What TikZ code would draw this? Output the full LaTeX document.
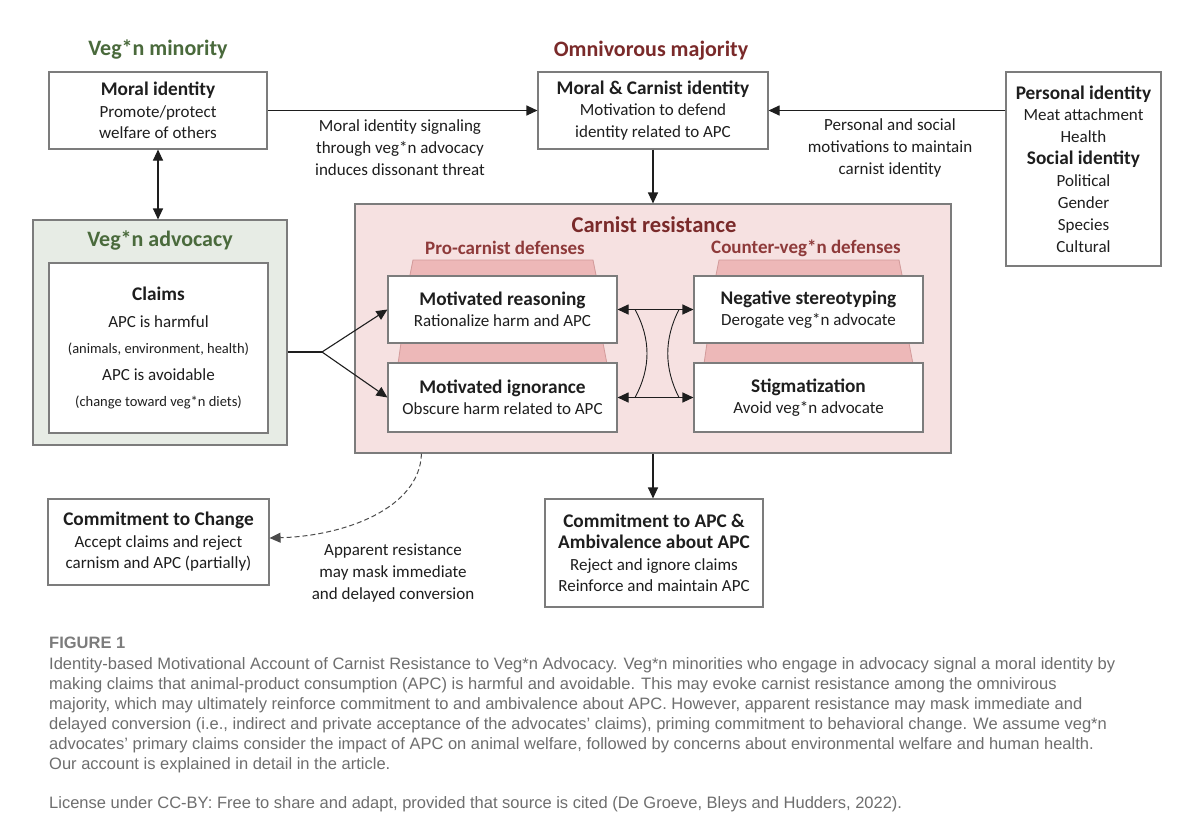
\documentclass[tikz,border=0pt]{standalone}
\usepackage{fontspec}
\setmainfont{Carlito}
\newfontfamily\capfont{Liberation Sans}
\usetikzlibrary{arrows.meta,calc}
\definecolor{vgreen}{HTML}{4A6A3C}
\definecolor{cred}{HTML}{7A2A2A}
\definecolor{cred2}{HTML}{8E3A3A}
\definecolor{pinkbg}{HTML}{F6E1E1}
\definecolor{pinktrap}{HTML}{EDB8B8}
\definecolor{pinkline}{HTML}{D29A9A}
\definecolor{greenbg}{HTML}{E7ECE5}
\definecolor{boxline}{HTML}{7C7C7C}
\definecolor{captxt}{HTML}{6E6E6E}
\definecolor{ink}{HTML}{1E1E1E}
\newcommand{\boxhead}[1]{{\fontsize{19.3}{21.5}\selectfont\bfseries #1}}
\begin{document}
\begin{tikzpicture}[x=1pt,y=-1pt,
  box/.style={draw=boxline,line width=1.1pt,fill=white,inner sep=0pt,align=center,text=ink,font=\fontsize{17}{21.5}\selectfont},
  title/.style={font=\bfseries\fontsize{22}{26}\selectfont,inner sep=0pt},
  subtitle/.style={font=\bfseries\fontsize{19}{22}\selectfont,inner sep=0pt,text=cred2},
  lbl/.style={align=center,inner sep=0pt,text=ink,font=\fontsize{17}{22}\selectfont},
  conn/.style={draw=ink,line width=1.1pt},
  arr/.style={conn,-{Triangle[length=11pt,width=10pt]}},
  darr/.style={conn,{Triangle[length=11pt,width=10pt]}-{Triangle[length=11pt,width=10pt]}},
  trap/.style={fill=pinktrap,draw=pinkline,line width=0.8pt},
  captext/.style={anchor=base west,inner sep=0pt,text=captxt,font=\capfont\fontsize{16.5}{20}\selectfont}
]
\useasboundingbox (0,0) rectangle (1200,839);
\fill[white] (0,0) rectangle (1200,839);

% titles
\node[title,text=vgreen] (tmin) at (158,49) {Veg*n minority};
\node[title,text=cred] (tmaj) at (651,51) {Omnivorous majority};

% top boxes
\node[box,minimum width=218pt,minimum height=77pt] (mid) at (158,110.5)
  {\boxhead{Moral identity}\\Promote/protect\\welfare of others};
\node[box,minimum width=230pt,minimum height=77pt] (mci) at (653,110.5)
  {\boxhead{Moral \& Carnist identity}\\Motivation to defend\\identity related to APC};
\node[box,minimum width=155pt,minimum height=194pt,font=\fontsize{17}{21.9}\selectfont] (pid) at (1083.5,169)
  {\boxhead{Personal identity}\\Meat attachment\\Health\\\boxhead{Social identity}\\Political\\Gender\\Species\\Cultural};

% veg*n advocacy
\node[box,fill=greenbg,minimum width=254pt,minimum height=225pt] (vadv) at (160,332.5) {};
\node[title,text=vgreen] (tadv) at (160,240) {Veg*n advocacy};
\node[box,minimum width=219pt,minimum height=170pt] (claims) at (158.5,348)
  {\boxhead{Claims}\\[5pt]APC is harmful\\[5pt]{\fontsize{14.5}{18}\selectfont (animals, environment, health)}\\[5pt]APC is avoidable\\[5pt]{\fontsize{14.5}{18}\selectfont (change toward veg*n diets)}};

% carnist resistance
\node[box,fill=pinkbg,minimum width=596pt,minimum height=249pt] (carn) at (653,328.5) {};
\node[title,text=cred,font=\bfseries\fontsize{22.6}{26}\selectfont] (tcarn) at (654,225) {Carnist resistance};
\node[subtitle] (tpro) at (505,248) {Pro-carnist defenses};
\node[subtitle] (tcounter) at (806,248) {Counter-veg*n defenses};

\draw[trap] (413,260) -- (593,260) -- (597,280) -- (409,280) -- cycle;
\draw[trap] (401,343) -- (603,343) -- (607,364) -- (398,364) -- cycle;
\draw[trap] (719,260) -- (899,260) -- (903,280) -- (715,280) -- cycle;
\draw[trap] (707,343) -- (909,343) -- (913,364) -- (704,364) -- cycle;

\node[box,minimum width=229pt,minimum height=67pt] (mr) at (502.5,309.5)
  {\boxhead{Motivated reasoning}\\Rationalize harm and APC};
\node[box,minimum width=229pt,minimum height=69pt] (mi) at (502.5,397.5)
  {\boxhead{Motivated ignorance}\\Obscure harm related to APC};
\node[box,minimum width=229pt,minimum height=67pt] (ns) at (808.5,309.5)
  {\boxhead{Negative stereotyping}\\Derogate veg*n advocate};
\node[box,minimum width=229pt,minimum height=69pt] (st) at (808.5,397.5)
  {\boxhead{Stigmatization}\\Avoid veg*n advocate};

% bottom boxes
\node[box,minimum width=221pt,minimum height=86pt] (cc) at (158.5,542)
  {\boxhead{Commitment to Change}\\Accept claims and reject\\carnism and APC (partially)};
\node[box,minimum width=218pt,minimum height=108pt] (capc) at (654,553)
  {\boxhead{Commitment to APC \&}\\\boxhead{Ambivalence about APC}\\Reject and ignore claims\\Reinforce and maintain APC};

% labels
\node[lbl] (l1) at (400,148) {Moral identity signaling\\through veg*n advocacy\\induces dissonant threat};
\node[lbl] (l2) at (890,148) {Personal and social\\motivations to maintain\\carnist identity};
\node[lbl] (l3) at (393,573) {Apparent resistance\\may mask immediate\\and delayed conversion};

% connectors
\draw[arr] (mid.east) -- (mci.west);
\draw[arr] (pid.west |- mci.east) -- (mci.east);
\draw[arr] (mci.south) -- (carn.north);
\draw[darr] (mid.south) -- (mid.south |- vadv.north);
\coordinate (br) at (322,352);
\draw[conn] (vadv.east |- br) -- (br);
\draw[arr] (br) -- (mr.west);
\draw[arr] (br) -- (mi.west);
\draw[darr] (mr.east) -- (ns.west);
\draw[darr] (mi.east) -- (st.west);
\coordinate (ca1) at (635,309.5);
\coordinate (ca2) at (635,397.5);
\coordinate (cb1) at (679,309.5);
\coordinate (cb2) at (679,397.5);
\draw[conn,line width=0.9pt] (ca1) .. controls (651,339) and (651,368) .. (ca2);
\draw[conn,line width=0.9pt] (cb1) .. controls (664,339) and (664,368) .. (cb2);
\draw[arr] (carn.south) -- (carn.south |- capc.north);
\coordinate (ds) at ([xshift=67pt]carn.south west);
\draw[conn,line width=1pt,draw=ink!80,dash pattern=on 5pt off 3pt,-{Triangle[length=11pt,width=10pt]}]
  (ds) .. controls (420,508) and (345,536) .. ([yshift=4pt]cc.east);

% caption
\node[captext,font=\capfont\bfseries\fontsize{16.5}{20}\selectfont,text=captxt!90] (fig) at (49,648) {FIGURE 1};
\node[captext] (c1) at (49,669) {Identity-based Motivational Account of Carnist Resistance to Veg*n Advocacy. Veg*n minorities who engage in advocacy signal a moral identity by};
\node[captext] (c2) at (49,689) {making claims that animal-product consumption (APC) is harmful and avoidable. This may evoke carnist resistance among the omnivirous};
\node[captext] (c3) at (49,709) {majority, which may ultimately reinforce commitment to and ambivalence about APC. However, apparent resistance may mask immediate and};
\node[captext] (c4) at (49,729) {delayed conversion (i.e., indirect and private acceptance of the advocates’ claims), priming commitment to behavioral change. We assume veg*n};
\node[captext] (c5) at (49,749) {advocates’ primary claims consider the impact of APC on animal welfare, followed by concerns about environmental welfare and human health.};
\node[captext] (c6) at (49,769) {Our account is explained in detail in the article.};
\node[captext] (c7) at (49,808) {License under CC-BY: Free to share and adapt, provided that source is cited (De Groeve, Bleys and Hudders, 2022).};
\end{tikzpicture}
\end{document}
